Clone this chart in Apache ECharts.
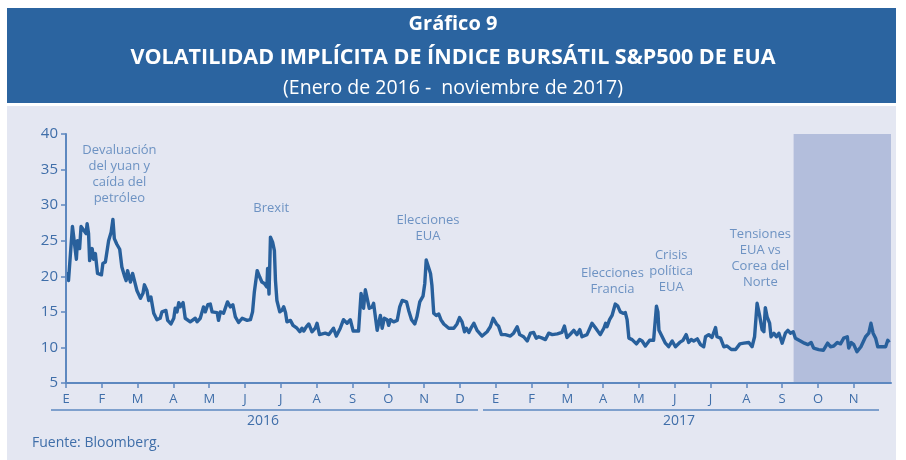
<!DOCTYPE html>
<html>
<head>
<meta charset="utf-8">
<script src="https://cdn.jsdelivr.net/npm/echarts@6/dist/echarts.min.js"></script>
<style>
  html, body { margin: 0; padding: 0; background: #fff; }
  #chart { width: 906px; height: 460px; }
</style>
</head>
<body>
<div id="chart"></div>
<script>
// month labels (ticks at the first day of each month, Jan 2016 - Nov 2017)
var monthLabels = ['E', 'F', 'M', 'A', 'M', 'J', 'J', 'A', 'S', 'O', 'N', 'D',
  'E', 'F', 'M', 'A', 'M', 'J', 'J', 'A', 'S', 'O', 'N'];
var yearLabels = ['2016', '2017'];

// position in months since 1 Jan 2016
var monthPos = [
  0.03, 0.07, 0.18, 0.29, 0.32, 0.38, 0.42, 0.49, 0.56, 0.59, 0.63, 0.66, 0.73, 0.77, 0.82, 0.88,
  0.99, 1.03, 1.10, 1.19, 1.26, 1.31, 1.35, 1.42, 1.50, 1.56, 1.63, 1.68, 1.72, 1.80, 1.86, 1.91,
  1.98, 2.08, 2.15, 2.19, 2.26, 2.31, 2.37, 2.45, 2.54, 2.63, 2.68, 2.79, 2.84, 2.93,
  3.01, 3.05, 3.10, 3.15, 3.19, 3.27, 3.33, 3.47, 3.61, 3.66, 3.75, 3.84, 3.89, 3.96,
  4.03, 4.08, 4.22, 4.26, 4.31, 4.40, 4.51, 4.59, 4.66, 4.73, 4.82, 4.92, 4.96,
  5.06, 5.15, 5.21, 5.26, 5.34, 5.41, 5.47, 5.54, 5.61, 5.63, 5.67, 5.71, 5.77, 5.82, 5.85, 5.89, 5.97,
  6.03, 6.08, 6.13, 6.17, 6.27, 6.34, 6.45, 6.53, 6.59, 6.64, 6.71, 6.78, 6.87, 6.96,
  7.01, 7.08, 7.24, 7.34, 7.47, 7.55, 7.66, 7.75, 7.85, 7.94,
  8.02, 8.17, 8.24, 8.31, 8.36, 8.41, 8.47, 8.55, 8.59, 8.69, 8.78, 8.83, 8.89, 8.97,
  9.01, 9.06, 9.15, 9.25, 9.32, 9.39, 9.51, 9.57, 9.65, 9.74, 9.80, 9.88, 9.97,
  10.02, 10.06, 10.11, 10.18, 10.22, 10.27, 10.34, 10.41, 10.47, 10.55, 10.69, 10.83, 10.92, 10.99,
  11.06, 11.13, 11.18, 11.25, 11.31, 11.39, 11.48, 11.62, 11.76, 11.85, 11.93,
  12.02, 12.08, 12.16, 12.27, 12.41, 12.50, 12.60, 12.67, 12.78, 12.88, 12.97,
  13.06, 13.13, 13.20, 13.30, 13.39, 13.48, 13.58, 13.72, 13.85, 13.92, 13.99,
  14.11, 14.18, 14.27, 14.35, 14.41, 14.55, 14.63, 14.69, 14.78, 14.92,
  15.02, 15.07, 15.11, 15.18, 15.25, 15.34, 15.41, 15.48, 15.56, 15.62, 15.67, 15.72, 15.81, 15.86, 15.93,
  16.02, 16.09, 16.18, 16.30, 16.41, 16.49, 16.53, 16.56, 16.65, 16.74, 16.83, 16.93,
  17.02, 17.14, 17.23, 17.32, 17.39, 17.46, 17.53, 17.63, 17.72, 17.81, 17.86, 17.95,
  18.04, 18.14, 18.18, 18.28, 18.37, 18.46, 18.58, 18.70, 18.82, 18.93,
  19.07, 19.16, 19.23, 19.30, 19.37, 19.44, 19.49, 19.53, 19.58, 19.65, 19.69, 19.77, 19.84, 19.91,
  20.00, 20.09, 20.16, 20.23, 20.31, 20.37, 20.51, 20.62, 20.72, 20.81, 20.88,
  21.02, 21.15, 21.27, 21.35, 21.44, 21.54, 21.63, 21.72, 21.82, 21.86, 21.93,
  22.00, 22.09, 22.20, 22.33, 22.42, 22.48, 22.54, 22.61, 22.67, 22.79, 22.89, 22.95, 22.99
];

// VIX level
var vixValues = [
  20.6, 19.4, 27.0, 22.4, 25.0, 23.9, 27.0, 26.5, 26.0, 27.4, 26.0, 22.2, 23.9, 22.4, 23.2, 20.4,
  20.2, 21.8, 22.0, 25.0, 26.2, 28.0, 25.3, 24.5, 23.8, 21.3, 20.1, 19.4, 20.8, 19.2, 20.4, 20.6,
  18.0, 16.9, 17.6, 18.8, 18.0, 16.6, 17.1, 14.8, 13.9, 14.1, 15.0, 15.2, 13.8, 13.3,
  14.1, 15.5, 15.0, 16.3, 15.7, 16.3, 14.1, 13.6, 14.1, 13.6, 14.1, 15.7, 15.0, 16.0,
  16.1, 15.0, 14.9, 13.8, 15.0, 14.8, 16.4, 15.7, 16.0, 14.3, 13.5, 14.1, 14.3,
  13.8, 13.9, 15.0, 17.8, 20.8, 19.9, 19.2, 19.0, 18.5, 21.1, 17.5, 25.5, 24.8, 23.6, 19.4, 16.6, 15.0,
  15.2, 15.7, 14.9, 13.6, 13.8, 13.1, 12.7, 12.2, 12.7, 12.3, 12.9, 13.3, 12.2, 12.7,
  13.4, 11.8, 12.0, 11.8, 12.7, 11.6, 12.7, 13.9, 13.4, 13.9,
  12.3, 12.3, 17.6, 15.5, 18.1, 18.3, 15.5, 15.7, 16.2, 12.4, 14.5, 12.7, 14.1, 13.9,
  13.1, 13.9, 13.6, 13.8, 15.7, 16.6, 16.4, 15.2, 13.9, 13.3, 14.3, 16.4, 17.2,
  19.0, 22.3, 22.5, 20.4, 18.7, 14.8, 14.5, 14.7, 13.9, 13.3, 12.7, 12.7, 13.3, 14.2,
  13.6, 12.2, 12.7, 12.1, 12.7, 13.4, 12.4, 11.6, 12.2, 12.9, 14.1,
  13.3, 13.0, 11.8, 11.8, 11.6, 12.0, 12.9, 11.8, 11.5, 10.9, 12.0,
  12.1, 11.3, 11.5, 11.3, 11.1, 12.0, 11.8, 11.9, 12.1, 13.0, 11.4,
  12.0, 12.4, 11.8, 12.5, 11.5, 11.8, 12.7, 13.4, 12.8, 11.8,
  12.7, 13.4, 12.9, 13.9, 14.5, 16.1, 15.8, 15.0, 14.8, 14.9, 13.9, 11.3, 11.1, 10.9, 10.5,
  11.1, 10.9, 10.2, 11.0, 11.0, 15.8, 15.0, 12.4, 11.5, 10.6, 10.1, 10.9,
  10.1, 10.7, 11.0, 11.8, 10.7, 11.1, 10.9, 11.2, 10.4, 10.1, 11.5, 11.8,
  11.4, 12.8, 11.5, 11.3, 10.1, 10.2, 9.7, 9.7, 10.5, 10.6,
  10.7, 10.1, 11.5, 16.2, 14.5, 12.5, 12.2, 15.6, 14.3, 13.4, 11.5, 12.0, 11.5, 12.0,
  10.6, 12.0, 12.4, 12.0, 12.2, 11.3, 10.9, 10.6, 10.4, 10.7, 9.9,
  9.7, 9.6, 10.6, 10.1, 10.2, 10.7, 10.5, 11.3, 11.5, 9.9, 10.7,
  10.4, 9.4, 10.1, 11.5, 12.0, 13.4, 12.0, 11.3, 10.1, 10.1, 10.1, 11.0, 10.7
];

// shaded period (months since 1 Jan 2016)
var shadeStart = 20.32;
var shadeEnd = 23.04;

// annotations
var noteText = [
  'Devaluación\ndel yuan y\ncaída del\npetróleo',
  'Brexit',
  'Elecciones\nEUA',
  'Elecciones\nFrancia',
  'Crisis\npolítica\nEUA',
  'Tensiones\nEUA vs\nCorea del\nNorte'
];
var noteX = [1.49, 5.73, 10.11, 15.26, 16.90, 19.39];
var noteY = [34.4, 29.6, 26.8, 19.3, 20.65, 22.5];

var lineData = monthPos.map(function (m, i) { return [m, vixValues[i]]; });
var noteData = noteX.map(function (x, i) { return { value: [x, noteY[i]], text: noteText[i] }; });
var monthIdx = monthLabels.map(function (_, i) { return i; });

var textBlue = '#3f6ea9';
var axisBlue = '#5d88c0';

var myChart = echarts.init(document.getElementById('chart'));

var option = {
  backgroundColor: '#ffffff',
  animation: false,
  textStyle: { fontFamily: 'Open Sans' },
  title: [{
    text: 'Gráfico 9',
    left: 'center',
    top: 9,
    textStyle: { color: '#fff', fontSize: 20, fontWeight: 'bold', fontFamily: 'Open Sans' }
  }, {
    text: 'VOLATILIDAD IMPLÍCITA DE ÍNDICE BURSÁTIL S&P500 DE EUA',
    left: 'center',
    top: 42,
    textStyle: { color: '#fff', fontSize: 21.5, fontWeight: 'bold', fontFamily: 'Open Sans' }
  }, {
    text: '(Enero de 2016 -  noviembre de 2017)',
    left: 'center',
    top: 73,
    textStyle: { color: '#fff', fontSize: 19.5, fontWeight: 'normal', fontFamily: 'Open Sans' }
  }],
  graphic: [
    { type: 'rect', z: -10, silent: true, shape: { x: 7, y: 8, width: 889, height: 95 }, style: { fill: '#2b64a0' } },
    { type: 'rect', z: -10, silent: true, shape: { x: 7, y: 106, width: 889, height: 354 }, style: { fill: '#e4e7f2' } },
    { type: 'line', silent: true, shape: { x1: 51, y1: 410, x2: 478, y2: 410 }, style: { stroke: axisBlue, lineWidth: 1.5 } },
    { type: 'line', silent: true, shape: { x1: 483, y1: 410, x2: 879, y2: 410 }, style: { stroke: axisBlue, lineWidth: 1.5 } },
    { type: 'text', silent: true, x: 263, y: 421, style: { text: yearLabels[0], fill: textBlue, font: '14px "Open Sans"', align: 'center', verticalAlign: 'middle' } },
    { type: 'text', silent: true, x: 679, y: 421, style: { text: yearLabels[1], fill: textBlue, font: '14px "Open Sans"', align: 'center', verticalAlign: 'middle' } },
    { type: 'text', silent: true, x: 32, y: 443, style: { text: 'Fuente: Bloomberg.', fill: textBlue, font: '14px "Open Sans"', align: 'left', verticalAlign: 'middle' } }
  ],
  grid: { left: 66, right: 15, top: 134, bottom: 77, containLabel: false },
  xAxis: {
    type: 'value',
    min: 0,
    max: shadeEnd,
    z: 5,
    splitLine: { show: false },
    axisLine: { show: true, onZero: false, lineStyle: { color: axisBlue, width: 2 } },
    axisTick: { show: true, length: 5, customValues: monthIdx, lineStyle: { color: axisBlue, width: 1.5 } },
    axisLabel: {
      customValues: monthIdx,
      color: textBlue,
      fontSize: 13,
      margin: 10,
      formatter: function (v) { return monthLabels[Math.round(v)]; }
    }
  },
  yAxis: {
    type: 'value',
    min: 5,
    max: 40,
    interval: 5,
    z: 5,
    splitLine: { show: false },
    axisLine: { show: true, lineStyle: { color: axisBlue, width: 2 } },
    axisTick: { show: true, length: 5, lineStyle: { color: axisBlue, width: 1.5 } },
    axisLabel: { color: textBlue, fontSize: 15, margin: 8 }
  },
  series: [{
    type: 'line',
    data: lineData,
    showSymbol: false,
    symbol: 'none',
    lineStyle: { color: '#28609c', width: 3.4, join: 'round' },
    z: 3,
    markArea: {
      silent: true,
      itemStyle: { color: '#b3bedc' },
      data: [[{ xAxis: shadeStart, yAxis: 40 }, { xAxis: shadeEnd, yAxis: 5 }]]
    }
  }, {
    type: 'scatter',
    data: noteData,
    symbolSize: 0,
    silent: true,
    z: 4,
    label: {
      show: true,
      position: 'inside',
      color: '#4f7db7',
      fontSize: 13,
      lineHeight: 16,
      align: 'center',
      verticalAlign: 'middle',
      formatter: function (p) { return p.data.text; }
    }
  }]
};

myChart.setOption(option);
</script>
</body>
</html>
